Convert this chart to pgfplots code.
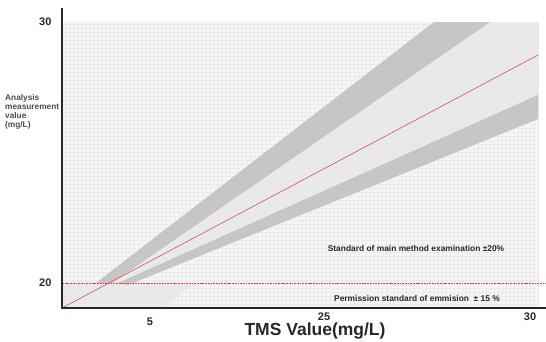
\documentclass[border=0pt]{standalone}
\usepackage{pgfplots}
\pgfplotsset{compat=1.18}
\usepackage{fontspec}
\setmainfont{Liberation Sans}
\definecolor{redline}{RGB}{214,80,96}
\definecolor{dotred}{RGB}{235,60,80}
\definecolor{bandd}{RGB}{198,198,198}
\definecolor{bandl}{RGB}{233,233,233}
\definecolor{bg}{RGB}{247,247,247}
\definecolor{gridc}{RGB}{234,234,234}
\definecolor{txt}{RGB}{40,40,40}
\begin{document}
\begin{tikzpicture}
\useasboundingbox (0,0) rectangle (546pt,341pt);
\begin{axis}[
 at={(62pt,33pt)}, anchor=south west,
 scale only axis, width=476pt, height=286pt,
 xmin=62, xmax=538, ymin=33, ymax=319,
 axis line style={draw=none},
 axis background/.style={fill=bg},
 xtick={62,66,...,538}, ytick={33,37,...,319},
 xticklabels={}, yticklabels={},
 major tick length=0pt,
 grid=major, major grid style={draw=gridc, line width=0.3pt},
 clip=false,
]
% light area below the 20 line
\addplot[draw=none, fill=bandl] coordinates {(62,33) (62,58) (196,58) (162,33)} --cycle;
% light wedge
\addplot[draw=none, fill=bandl] coordinates {(96,58) (434,319) (538,319) (538,222) (128,56)} --cycle;
% upper dark band
\addplot[draw=none, fill=bandd] coordinates {(96,58) (434,319) (490,319) (112,58)} --cycle;
% lower dark band
\addplot[draw=none, fill=bandd] coordinates {(118,58) (538,246) (538,222) (128,56)} --cycle;
% red diagonal
\addplot[redline, line width=0.6pt] coordinates {(62,33) (538,286)};
% dotted horizontal
\addplot[dotred, dash pattern=on 1.8pt off 0.9pt, line width=1pt] coordinates {(62,57.5) (546,57.5)};
% axis lines
\draw[line width=1.6pt, black!85] (axis cs:62,333) -- (axis cs:62,33) -- (axis cs:546,33);
% tick labels
\node[anchor=east, font=\fontsize{11}{12}\selectfont\bfseries, text=txt] at (axis cs:55,319) {30};
\node[anchor=east, font=\fontsize{11}{12}\selectfont\bfseries, text=txt] at (axis cs:55,58) {20};
\node[font=\fontsize{11}{12}\selectfont\bfseries, text=txt] at (axis cs:150,19) {5};
\node[font=\fontsize{11}{12}\selectfont\bfseries, text=txt] at (axis cs:324,24) {25};
\node[font=\fontsize{11}{12}\selectfont\bfseries, text=txt] at (axis cs:530,24) {30};
% axis titles
\node[font=\fontsize{17.5}{19}\selectfont\bfseries, text=txt] at (axis cs:315,10) {TMS Value(mg/L)};
\node[anchor=north west, align=left, inner sep=0pt, font=\fontsize{8.3}{9.2}\selectfont\bfseries, text=black!70] at (axis cs:5,247) {Analysis\\measurement\\value\\(mg/L)};
% annotations
\node[font=\fontsize{8.4}{9}\selectfont\bfseries, text=txt] at (axis cs:416,93) {Standard of main method examination ±20\%};
\node[font=\fontsize{8.4}{9}\selectfont\bfseries, text=txt] at (axis cs:417,43) {Permission standard of emmision \ ± 15 \%};
\end{axis}
\end{tikzpicture}
\end{document}
